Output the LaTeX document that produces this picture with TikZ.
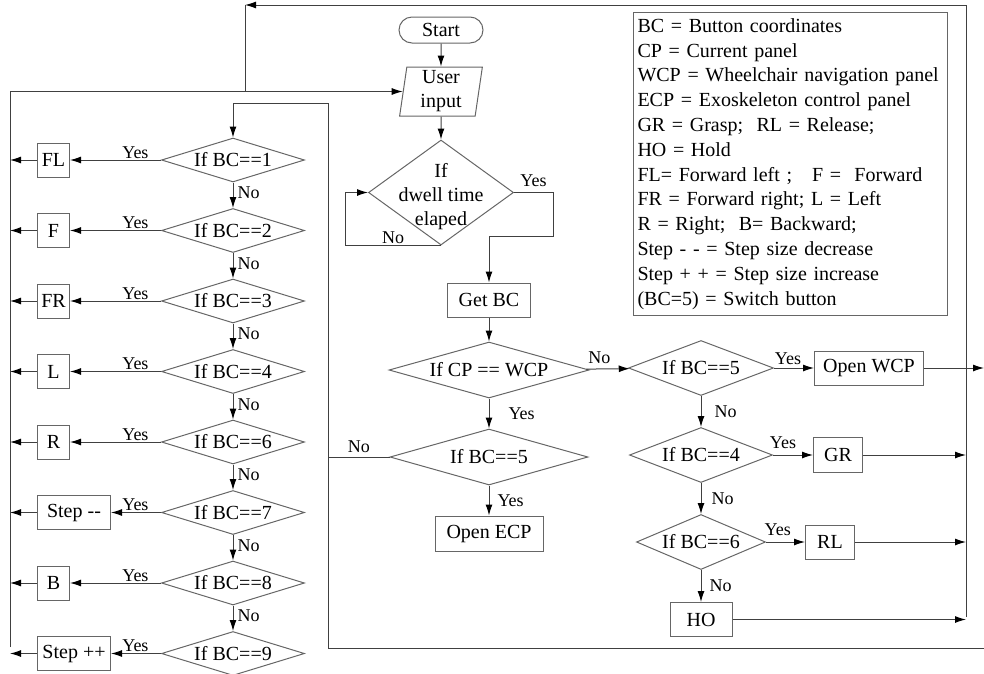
\documentclass[tikz,border=0pt]{standalone}
\usepackage{fontspec}
\setmainfont{Liberation Serif}
\usetikzlibrary{positioning, arrows.meta, shapes.geometric}

\begin{document}
\begin{tikzpicture}[
        x=1pt, y=-1pt,
        font=\fontsize{20}{24}\selectfont,
        >={Latex[length=11pt,width=7pt,color=black]},
        line width=1pt,
        color=black!75, text=black,
        node distance=31pt,
        box/.style={
            draw=black!60,
            rectangle,
            align=center,
            inner sep=2pt,
            minimum height=34pt
        },
        dec/.style={
            draw=black!60,
            diamond, aspect=2.6,
            inner sep=0pt,
            minimum width=143pt,
            minimum height=55pt
        },
        ldec/.style={dec, aspect=3.25, minimum height=44pt},
        term/.style={box, rounded corners=13pt, minimum width=84pt, minimum height=26pt},
        io/.style={
            draw=black!60,
            trapezium, trapezium left angle=84, trapezium right angle=96,
            trapezium stretches=true,
            align=center, inner sep=1pt,
            minimum width=83pt, minimum height=49pt
        },
        lbl/.style={font=\fontsize{18}{20}\selectfont, inner sep=1pt}
    ]
    \useasboundingbox (0,0) rectangle (984,673);

    % --- START / INPUT ---
    \node[term] (start) at (441,30) {Start};
    \node[io, below=23pt of start] (input) {User\\input};
    \node[dec, aspect=1.38, minimum width=145pt, minimum height=105pt, below=23pt of input,
        label={[align=center, yshift=-4pt]center:If\\dwell time\\elaped}] (dwell) {};

    % --- PANEL CHECK ---
    \node[box, minimum width=83pt] (getbc) at (489,300) {Get BC};
    \node[dec, aspect=3.57, minimum width=200pt, minimum height=56pt, below=24pt of getbc] (cpwcp) {If CP == WCP};
    \node[dec, aspect=3.54, minimum width=198pt, minimum height=56pt, below=30pt of cpwcp] (ecpsw) {If BC==5};
    \node[box, minimum width=108pt, minimum height=35pt, below=30pt of ecpsw] (openecp) {Open ECP};

    % --- EXOSKELETON PANEL ---
    \node[dec, aspect=2.64, minimum width=145pt] (sw5) at (701,368) {If BC==5};
    \node[dec, below=of sw5] (gr4) {If BC==4};
    \node[dec, aspect=2.35, minimum width=129pt, below=of gr4] (rl6) {If BC==6};
    \node[box, minimum width=62pt, below=32pt of rl6] (ho) {HO};
    \node[box, minimum width=109pt, right=40pt of sw5] (openwcp) {Open WCP};
    \node[box, minimum width=49pt, minimum height=35pt, right=40pt of gr4] (gr) {GR};
    \node[box, minimum width=49pt, right=39pt of rl6] (rl) {RL};

    % --- WHEELCHAIR PANEL ---
    \node[ldec] (bc1) at (233,160) {If BC==1};
    \node[ldec, below=25.5pt of bc1] (bc2) {If BC==2};
    \node[ldec, below=25.5pt of bc2] (bc3) {If BC==3};
    \node[ldec, below=25.5pt of bc3] (bc4) {If BC==4};
    \node[ldec, below=25.5pt of bc4] (bc6) {If BC==6};
    \node[ldec, below=25.5pt of bc6] (bc7) {If BC==7};
    \node[ldec, below=25.5pt of bc7] (bc8) {If BC==8};
    \node[ldec, below=25.5pt of bc8] (bc9) {If BC==9};
    \node[box, minimum width=32pt, left=91pt of bc1] (fl) {FL};
    \node[box, minimum width=32pt, left=91pt of bc2] (fw) {F};
    \node[box, minimum width=32pt, left=91pt of bc3] (fr) {FR};
    \node[box, minimum width=32pt, left=91pt of bc4] (lt) {L};
    \node[box, minimum width=32pt, left=91pt of bc6] (rt) {R};
    \node[box, minimum width=73pt, left=50pt of bc7] (stepdn) {Step -{}-};
    \node[box, minimum width=32pt, left=91pt of bc8] (bw) {B};
    \node[box, minimum width=73pt, left=50pt of bc9] (stepup) {Step ++};

    % --- LEGEND ---
    \node[draw=black!60, anchor=north west, text width=306pt, align=left,
        font=\fontsize{20}{24.8}\selectfont,
        inner xsep=4pt, inner ysep=6pt] (legend) at (633,12) {
    BC = Button coordinates\\
    CP = Current panel\\
    WCP = Wheelchair navigation panel\\
    ECP = Exoskeleton control panel\\
    GR = Grasp;\ \ RL = Release;\\
    HO = Hold\\
    FL= Forward left ;\ \ \ F =\ \ Forward\\
    FR = Forward right; L = Left\\
    R = Right;\ \ B= Backward;\\
    Step - - = Step size decrease\\
    Step + + = Step size increase\\
    (BC=5) = Switch button
    };

    % --- RETURN LINES ---
    \coordinate (bustop) at (328,103);
    \coordinate (busbot) at (984,648);
    \coordinate (rettop) at (245,5);
    \coordinate (retright) at (966,617);
    \coordinate (retleft) at (10,647);

    % --- ARROWS ---
    \draw[->] (start) -- (input);
    \draw[->] (input) -- (dwell);
    \draw[->] (dwell.south) -- node[lbl, above]{No} ++(-96,0) |- (dwell.west);
    \draw[->] (dwell.east) -- node[lbl, above=4pt]{Yes} ++(39,0) -- ++(0,44) -| (getbc);
    \draw[->] (getbc) -- (cpwcp);
    \draw[->] (cpwcp) -- node[lbl, right=18pt]{Yes} (ecpsw);
    \draw[->] (ecpsw) -- node[lbl, right=7pt]{Yes} (openecp);
    \draw (ecpsw) -- node[lbl, above=3pt]{No} (ecpsw -| bustop);
    \draw[->] (cpwcp) -- node[lbl, above=4pt, pos=0.3]{No} (sw5);

    \draw[->] (sw5) -- node[lbl, above=2pt, pos=0.35]{Yes} (openwcp);
    \draw[->] (gr4) -- node[lbl, above=5pt, pos=0.25]{Yes} (gr);
    \draw[->] (rl6) -- node[lbl, above=5pt, pos=0.3]{Yes} (rl);
    \draw[->] (sw5) -- node[lbl, right=12pt]{No} (gr4);
    \draw[->] (gr4) -- node[lbl, right=9pt]{No} (rl6);
    \draw[->] (rl6) -- node[lbl, right=7pt]{No} (ho);
    \draw[->] (openwcp) -- (openwcp -| busbot);
    \draw[->] (gr) -- (gr -| retright);
    \draw[->] (rl) -- (rl -| retright);
    \draw[->] (ho) -- (ho -| retright);
    \draw[->] (retright) |- (rettop);
    \draw (rettop) -- (rettop |- input);
    \draw[->] (busbot) -| (bustop) -| (bc1);

    \draw[->] (bc1) -- node[lbl, pos=0, anchor=south east, xshift=-11pt]{Yes} (fl);
    \draw[->] (bc2) -- node[lbl, pos=0, anchor=south east, xshift=-11pt]{Yes} (fw);
    \draw[->] (bc3) -- node[lbl, pos=0, anchor=south east, xshift=-11pt]{Yes} (fr);
    \draw[->] (bc4) -- node[lbl, pos=0, anchor=south east, xshift=-11pt]{Yes} (lt);
    \draw[->] (bc6) -- node[lbl, pos=0, anchor=south east, xshift=-11pt]{Yes} (rt);
    \draw[->] (bc7) -- node[lbl, pos=0, anchor=south east, xshift=-11pt]{Yes} (stepdn);
    \draw[->] (bc8) -- node[lbl, pos=0, anchor=south east, xshift=-11pt]{Yes} (bw);
    \draw[->] (bc9) -- node[lbl, pos=0, anchor=south east, xshift=-11pt]{Yes} (stepup);
    \draw[->] (bc1) -- node[lbl, right=3pt, pos=0.4]{No} (bc2);
    \draw[->] (bc2) -- node[lbl, right=3pt, pos=0.4]{No} (bc3);
    \draw[->] (bc3) -- node[lbl, right=3pt, pos=0.4]{No} (bc4);
    \draw[->] (bc4) -- node[lbl, right=3pt, pos=0.4]{No} (bc6);
    \draw[->] (bc6) -- node[lbl, right=3pt, pos=0.4]{No} (bc7);
    \draw[->] (bc7) -- node[lbl, right=3pt, pos=0.4]{No} (bc8);
    \draw[->] (bc8) -- node[lbl, right=3pt, pos=0.4]{No} (bc9);
    \draw[->] (fl) -- (fl -| retleft);
    \draw[->] (fw) -- (fw -| retleft);
    \draw[->] (fr) -- (fr -| retleft);
    \draw[->] (lt) -- (lt -| retleft);
    \draw[->] (rt) -- (rt -| retleft);
    \draw[->] (stepdn) -- (stepdn -| retleft);
    \draw[->] (bw) -- (bw -| retleft);
    \draw[->] (stepup) -- (stepup -| retleft);
    \draw[->] (retleft) |- (input);

    \end{tikzpicture}
\end{document}
